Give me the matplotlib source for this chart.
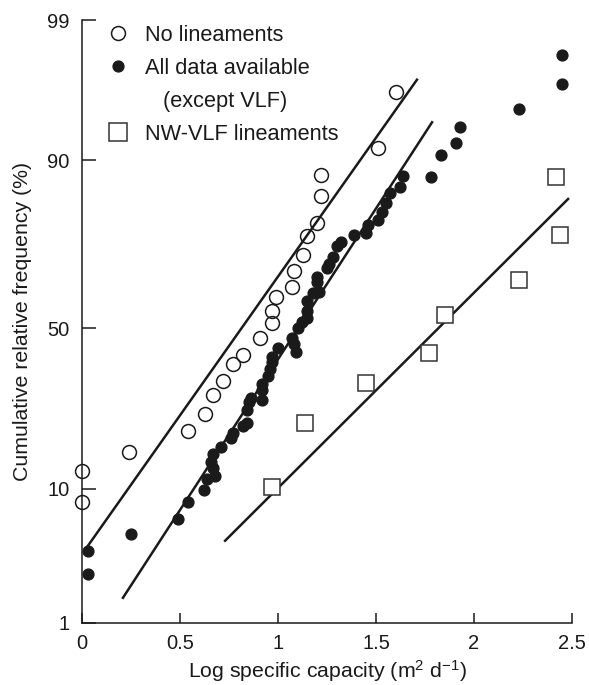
import numpy as np
import matplotlib
matplotlib.use('Agg')
import matplotlib.pyplot as plt
from matplotlib.lines import Line2D
from statistics import NormalDist

# ---------------- data ----------------
no_lin_x = [0.0, 0.0, 0.24, 0.54, 0.63, 0.67, 0.72, 0.77, 0.82, 0.91, 0.97,
            0.97, 0.99, 1.07, 1.08, 1.13, 1.15, 1.20, 1.22, 1.22, 1.51, 1.60]
no_lin_p = [8.3, 12.7, 16.2, 20.6, 24.7, 29.7, 33.6, 38.7, 41.5, 46.8, 51.5,
            55.2, 59.3, 62.3, 66.8, 71.1, 75.9, 78.8, 84.3, 87.8, 91.5, 96.3]

all_x = [0.03, 0.03, 0.25, 0.49, 0.54, 0.62, 0.64, 0.68, 0.67, 0.66,
         0.67, 0.71, 0.76, 0.77, 0.82, 0.84, 0.84, 0.85, 0.86, 0.92,
         0.92, 0.92, 0.95, 0.96, 0.97, 0.97, 1.00, 1.09, 1.08, 1.07,
         1.10, 1.12, 1.15, 1.15, 1.15, 1.18, 1.21, 1.20, 1.20, 1.25,
         1.26, 1.28, 1.30, 1.32, 1.39, 1.45, 1.46, 1.51, 1.53, 1.55,
         1.57, 1.62, 1.64, 1.78, 1.83, 1.91, 1.93, 2.23, 2.45, 2.45]
all_p = [2.6, 3.9, 5.1, 6.5, 8.3, 9.9, 11.5, 11.9, 13.3, 14.3,
         15.8, 17.2, 19.1, 20.2, 21.8, 22.5, 25.7, 27.8, 28.9, 28.3,
         31.1, 32.8, 35.1, 37.2, 39.3, 40.9, 43.7, 42.4, 44.9, 46.8,
         50.0, 51.8, 53.0, 55.2, 58.2, 60.5, 60.8, 63.7, 65.1, 67.6,
         68.7, 70.6, 73.4, 74.4, 76.1, 76.6, 78.4, 79.5, 81.2, 83.0,
         84.8, 85.9, 87.7, 87.5, 90.6, 92.0, 93.7, 95.2, 96.8, 98.05]

nw_x = [0.97, 1.14, 1.45, 1.77, 1.85, 2.23, 2.44, 2.42]
nw_p = [10.3, 22.5, 33.1, 42.1, 54.0, 64.3, 76.1, 87.5]

fit_no_lin_x = [0.026, 1.709]
fit_no_lin_p = [4.15, 97.0]
fit_all_x = [0.209, 1.786]
fit_all_p = [1.66, 94.1]
fit_nw_x = [0.730, 2.480]
fit_nw_p = [4.6, 83.75]

x_ticks = [0, 0.5, 1, 1.5, 2, 2.5]
x_tick_labels = ['0', '0.5', '1', '1.5', '2', '2.5']
y_ticks = [1, 10, 50, 90, 99]
y_tick_labels = ['1', '10', '50', '90', '99']

legend_labels = ['No lineaments', 'All data available', '   (except VLF)',
                 'NW-VLF lineaments']

# ---------------- probability scale ----------------
_nd = NormalDist()
_ppf = np.vectorize(_nd.inv_cdf, otypes=[float])
_cdf = np.vectorize(_nd.cdf, otypes=[float])
# relative spacing of the printed probability grid (1, 10, 50, 90, 99 %)
_ZK = np.array([_nd.inv_cdf(t / 100.0) for t in y_ticks])
_PK = np.array([0.0, 134.0, 295.0, 463.0, 603.0])


def _lin(x, xp, fp):
    x = np.asarray(x, float)
    y = np.interp(x, xp, fp)
    lo_s = (fp[1] - fp[0]) / (xp[1] - xp[0])
    hi_s = (fp[-1] - fp[-2]) / (xp[-1] - xp[-2])
    y = np.where(x < xp[0], fp[0] + (x - xp[0]) * lo_s, y)
    y = np.where(x > xp[-1], fp[-1] + (x - xp[-1]) * hi_s, y)
    return y


def forward(p):
    p = np.clip(np.asarray(p, float), 1e-7, 100 - 1e-7)
    return _lin(_ppf(p / 100.0), _ZK, _PK)


def inverse(v):
    return _cdf(_lin(np.asarray(v, float), _PK, _ZK)) * 100.0


# ---------------- figure ----------------
plt.rcParams['font.family'] = ['Liberation Sans', 'DejaVu Sans']
plt.rcParams['mathtext.fontset'] = 'custom'
plt.rcParams['mathtext.rm'] = 'Liberation Sans'
plt.rcParams['mathtext.it'] = 'Liberation Sans:italic'
plt.rcParams['mathtext.bf'] = 'Liberation Sans:bold'

INK = '#1a1a1a'
fig = plt.figure(figsize=(5.89, 6.85), dpi=100)
ax = fig.add_axes([82 / 589, 62 / 685, 490 / 589, 603 / 685])
ax.set_yscale('function', functions=(forward, inverse))

ax.plot(fit_no_lin_x, fit_no_lin_p, '-', color=INK, lw=1.8, zorder=2)
ax.plot(fit_all_x, fit_all_p, '-', color=INK, lw=1.8, zorder=2)
ax.plot(fit_nw_x, fit_nw_p, '-', color=INK, lw=1.8, zorder=2)

h_no, = ax.plot(no_lin_x, no_lin_p, 'o', mfc='none', mec=INK, mew=1.1,
                ms=10, clip_on=False, zorder=3)
h_all, = ax.plot(all_x, all_p, 'o', color=INK, mec=INK, ms=7.8,
                 clip_on=False, zorder=3)
h_nw, = ax.plot(nw_x, nw_p, 's', mfc='white', mec='#333333', mew=1.1,
                ms=12, clip_on=False, zorder=4)

ax.set_xlim(0, 2.5)
ax.set_ylim(1, 99)
ax.set_xticks(x_ticks)
ax.set_xticklabels(x_tick_labels)
ax.set_yticks(y_ticks)
ax.set_yticklabels(y_tick_labels)
ax.minorticks_off()

for s in ['top', 'right']:
    ax.spines[s].set_visible(False)
for s in ['left', 'bottom']:
    ax.spines[s].set_linewidth(1.1)
    ax.spines[s].set_color(INK)

ax.tick_params(axis='y', direction='in', length=10, width=1.1, pad=9,
               labelsize=14.5, colors=INK)
ax.tick_params(axis='x', direction='in', length=7, width=1.1, pad=8,
               labelsize=14.5, colors=INK)

ax.set_xlabel(r'Log specific capacity (m$^{2}$ d$^{-1}$)', fontsize=15.3,
              color=INK)
ax.set_ylabel('Cumulative relative frequency (%)', fontsize=15.3, color=INK)
ax.xaxis.set_label_coords(0.5, -0.058)
ax.yaxis.set_label_coords(-0.102, 0.5)

blank = Line2D([], [], ls='none')
leg = ax.legend(handles=[h_no, h_all, blank, h_nw], labels=legend_labels,
                loc='upper left', bbox_to_anchor=(0.052, 0.992),
                frameon=False, handlelength=1.0, handletextpad=0.7,
                labelspacing=0.55, borderpad=0, borderaxespad=0,
                fontsize=15.7)
for t in leg.get_texts():
    t.set_color(INK)
leg.legend_handles[3].set_markersize(13.5)

fig.savefig('out.png', dpi=100)
